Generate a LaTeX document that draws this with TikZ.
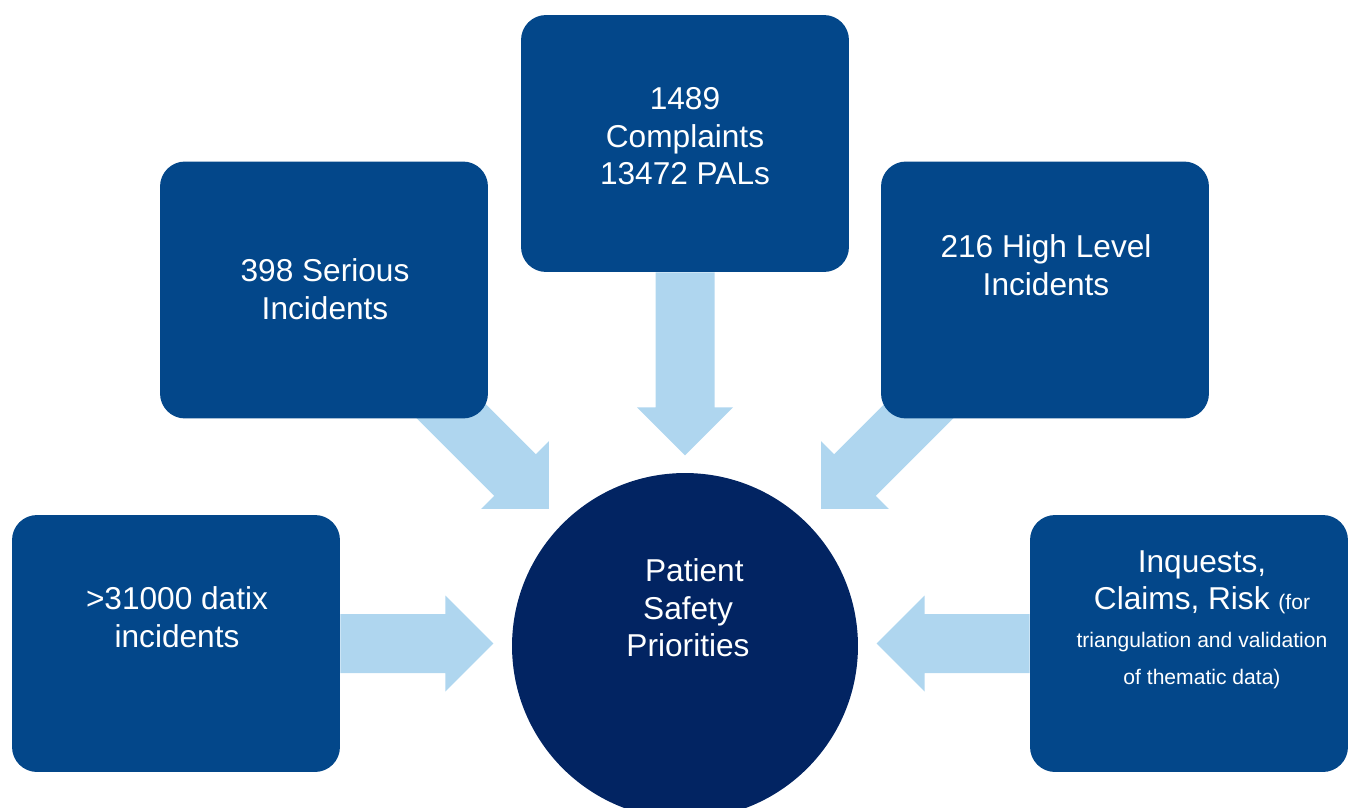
\documentclass[tikz,border=0pt]{standalone}
\usepackage{fontspec}
\setmainfont{Liberation Sans}
\usetikzlibrary{positioning,backgrounds}
\definecolor{boxBlue}{HTML}{03478A}
\definecolor{hubBlue}{HTML}{022462}
\definecolor{flowBlue}{HTML}{AFD6EF}

% fat block arrow: start point, angle, length (pixel units)
\newcommand{\bigarrow}[3]{%
  \fill[flowBlue, shift={#1}, rotate=#2] (0,-29.5) -- ({#3-48},-29.5) -- ({#3-48},-48) -- (#3,0)
    -- ({#3-48},48) -- ({#3-48},29.5) -- (0,29.5) -- cycle;}

\begin{document}
\begin{tikzpicture}[x=0.02cm, y=-0.02cm,
  srcbox/.style={fill=boxBlue, rounded corners=0.5cm, minimum width=6.56cm, minimum height=5.14cm, inner sep=0pt},
  boxtext/.style={text=white, align=center, inner sep=0pt, font=\fontsize{18}{21.3}\selectfont}]
\useasboundingbox (0,0) rectangle (1350,808);
\clip (0,0) rectangle (1350,808);
% --- the five sources ---
\node[srcbox] (datix) at (176,643.5) {};
\node[srcbox] (serious) at (324,290) {};
\node[srcbox] (complaints) at (685,143.5) {};
\node[srcbox] (highlevel) at (1045,290) {};
\node[srcbox, minimum width=6.36cm] (inquests) at (1189,643.5) {};
% --- hub ---
\node[circle, fill=hubBlue, minimum size=6.92cm, inner sep=0pt] (hub) at (685,646) {};
% --- labels ---
\node[boxtext] (datixT) at (177,617) {>31000 datix\\incidents};
\node[boxtext] (seriousT) at (325,289) {398 Serious\\Incidents};
\node[boxtext] (complaintsT) at (685,136.5) {1489\\Complaints\\13472 PALs};
\node[boxtext] (highlevelT) at (1046,265) {216 High Level\\Incidents};
\node[boxtext] (hubT) at (688,608) {\hspace*{0.4em}Patient\\Safety\\Priorities};
\node[boxtext] (inquestsT) at (1202,620) {Inquests,\\Claims, Risk {\fontsize{12}{21.3}\selectfont (for}\\
  {\fontsize{12}{21.3}\selectfont triangulation and validation}\\{\fontsize{12}{21.3}\selectfont of thematic data)}};
% --- arrows into the hub, behind the boxes ---
\coordinate (siFoot) at (420,380);
\coordinate (hlFoot) at (950,380);
\begin{scope}[on background layer]
  \bigarrow{(datix.east)}{0}{153}
  \bigarrow{(inquests.west)}{180}{153}
  \bigarrow{(complaints.south)}{-90}{183}
  \bigarrow{(siFoot)}{-45}{182.4}
  \bigarrow{(hlFoot)}{-135}{182.4}
\end{scope}
\end{tikzpicture}
\end{document}
